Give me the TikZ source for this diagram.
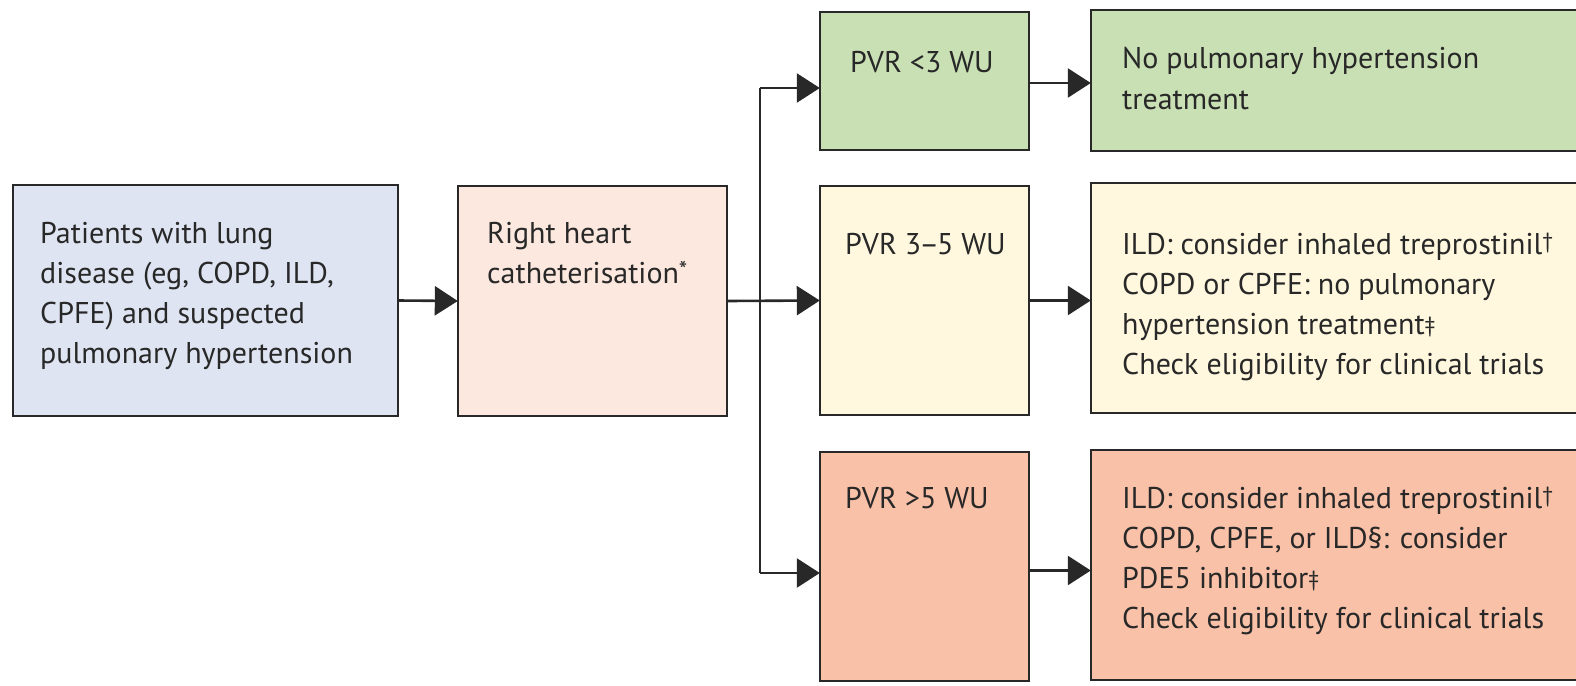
\documentclass[tikz,border=0pt]{standalone}
\usepackage{fontspec}
\setmainfont{PT Sans}
\usetikzlibrary{arrows.meta,calc}
\definecolor{cBlue}{RGB}{222,228,241}
\definecolor{cPeach}{RGB}{252,232,222}
\definecolor{cGreen}{RGB}{201,223,180}
\definecolor{cCream}{RGB}{255,248,222}
\definecolor{cSalmon}{RGB}{249,193,168}
\definecolor{cLine}{RGB}{40,40,40}
\definecolor{cText}{RGB}{40,40,40}
\newcommand{\mydag}{\raisebox{0.35ex}{\fontsize{22}{22}\selectfont †}}
\newcommand{\myddag}{\raisebox{0.1ex}{\fontsize{22}{22}\selectfont ‡}}
\newcommand{\myast}{\raisebox{0.3ex}{\fontsize{24}{24}\selectfont *}}
\tikzset{
  box/.style={draw=cLine, line width=2.6pt, inner sep=0pt},
  txt/.style={anchor=base west, inner sep=0pt, text=cText, font=\fontsize{30}{40}\selectfont},
  arr/.style={draw=cLine, line width=2.6pt, -{Triangle[length=23pt,width=29pt]}},
  ln/.style={draw=cLine, line width=2.6pt}
}
\newcommand{\lines}[1]{\begin{tabular}[t]{@{}l@{}}#1\end{tabular}}
\begin{document}
\begin{tikzpicture}[x=1pt,y=-1pt]
\useasboundingbox (0,0) rectangle (1576,685);
\clip (0,0) rectangle (1576,685);
\fill[white] (0,0) rectangle (1576,685);
% boxes
\draw[box, fill=cBlue] (13,185) rectangle (398,416);
\node[inner sep=0pt] (A) at (205.5,300.5) [minimum width=385pt, minimum height=231pt] {};
\draw[box, fill=cPeach] (458,186) rectangle (727,416);
\node[inner sep=0pt] (B) at (592.5,301) [minimum width=269pt, minimum height=230pt] {};
\draw[box, fill=cGreen] (820,12) rectangle (1029,150);
\node[inner sep=0pt] (C1) at (924.5,81) [minimum width=209pt, minimum height=138pt] {};
\draw[box, fill=cGreen] (1091,10) rectangle (1600,151);
\node[inner sep=0pt] (D1) at (1345.5,80.5) [minimum width=509pt, minimum height=141pt] {};
\draw[box, fill=cCream] (820,186) rectangle (1029,415);
\node[inner sep=0pt] (C2) at (924.5,300.5) [minimum width=209pt, minimum height=229pt] {};
\draw[box, fill=cCream] (1091,183) rectangle (1600,413);
\node[inner sep=0pt] (D2) at (1345.5,298) [minimum width=509pt, minimum height=230pt] {};
\draw[box, fill=cSalmon] (820,452) rectangle (1029,681);
\node[inner sep=0pt] (C3) at (924.5,566.5) [minimum width=209pt, minimum height=229pt] {};
\draw[box, fill=cSalmon] (1091,450) rectangle (1600,680);
\node[inner sep=0pt] (D3) at (1345.5,565) [minimum width=509pt, minimum height=230pt] {};
% texts
\node[txt] (tA) at (40,243) {\lines{Patients with lung\\disease (eg, COPD, ILD,\\CPFE) and suspected\\pulmonary hypertension}};
\node[txt] (tB) at (487,243) {\lines{Right heart\\catheterisation\myast}};
\node[txt] (tC1) at (850,73) {PVR <3 WU};
\node[txt] (tD1) at (1122,69) {\lines{No pulmonary hypertension\\treatment}};
\node[txt] (tC2) at (845,254) {PVR 3\kern-2pt–\kern-2pt5 WU};
\node[txt] (tD2) at (1122,254) {\lines{ILD: consider inhaled treprostinil\mydag\\COPD or CPFE: no pulmonary\\hypertension treatment\myddag\\Check eligibility for clinical trials}};
\node[txt] (tC3) at (845,508) {PVR >5 WU};
\node[txt] (tD3) at (1122,508) {\lines{ILD: consider inhaled treprostinil\mydag\\COPD, CPFE, or ILD§: consider\\PDE5 inhibitor\myddag\\Check eligibility for clinical trials}};
% connectors
\coordinate (jt) at (760,88);
\coordinate (jb) at (760,573);
\draw[arr] (A.east) -- (B.west);
\draw[arr] (B.east) -- (C2.west);
\draw[ln] (jt) -- (jb);
\draw[arr] (jt) -- (jt -| C1.west);
\draw[arr] (jb) -- (jb -| C3.west);
\draw[arr] ([yshift=-2pt]C1.east) -- ([yshift=-2pt]C1.east -| D1.west);
\draw[arr] (C2.east) -- (C2.east -| D2.west);
\draw[arr] ([yshift=-4pt]C3.east) -- ([yshift=-4pt]C3.east -| D3.west);
\end{tikzpicture}
\end{document}
